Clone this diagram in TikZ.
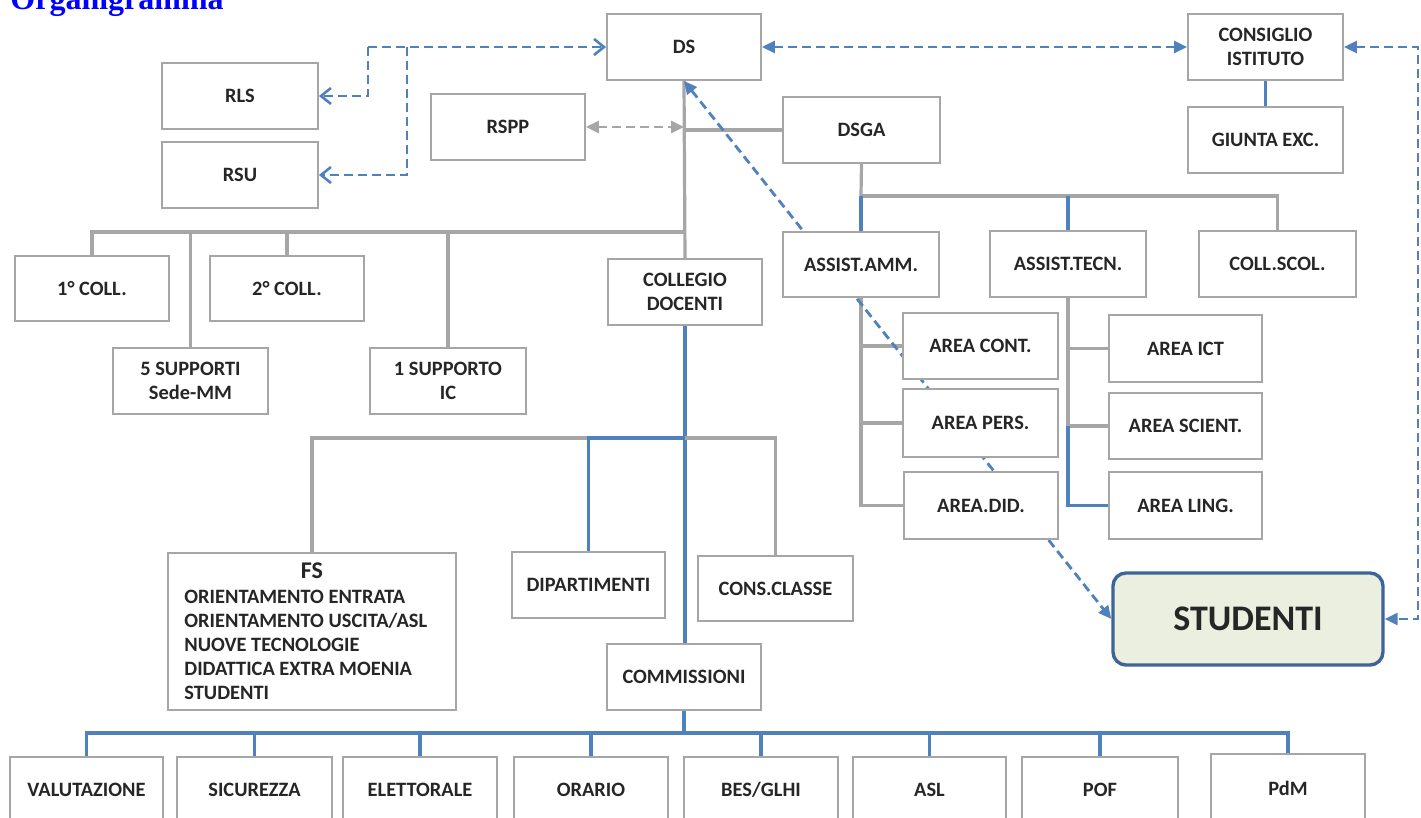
\documentclass[tikz,border=0pt]{standalone}
\usepackage{fontspec}
\setmainfont{Carlito}
\newfontfamily\titlefont{Liberation Serif}
\usetikzlibrary{arrows.meta}
\definecolor{boxgray}{HTML}{A6A6A6}
\definecolor{linegray}{HTML}{A6A6A6}
\definecolor{lineblue}{HTML}{4F81BD}
\definecolor{txt}{HTML}{262626}
\definecolor{studb}{HTML}{3D6597}
\definecolor{studf}{HTML}{EBEFDF}
\definecolor{titleblue}{HTML}{0000FF}
\pgfdeclarelayer{bg}
\pgfsetlayers{bg,main}
\tikzset{
  box/.style={draw=boxgray, line width=0.9pt, fill=white, inner sep=0pt, align=center,
    font=\bfseries\fontsize{10.2}{12}\selectfont, text=txt},
  gl/.style={draw=linegray, line width=1.6pt},
  bl/.style={draw=lineblue, line width=1.6pt},
  dbl/.style={draw=lineblue, line width=1.4pt, dash pattern=on 4.5pt off 2.5pt},
  dgl/.style={draw=linegray, line width=1.4pt, dash pattern=on 4.5pt off 2.5pt},
  tri/.tip={Triangle[length=6.5pt,width=6pt]},
  barb/.tip={Straight Barb[length=5pt,width=8pt,line width=1.3pt]},
}
\newcommand\obox[6]{\node[box, minimum width={(#4-#2)*0.5pt}, minimum height={(#5-#3)*0.5pt}] (#1) at ({(#2+#4)/2},{(#3+#5)/2}) {#6};}
\begin{document}
\begin{tikzpicture}[x=0.5pt,y=-0.5pt]
\useasboundingbox (0,0) rectangle (1421,818);
% title (cut off at the top edge, as in the reference)
\node[anchor=base west, inner sep=0pt, font=\titlefont\bfseries\fontsize{16}{18}\selectfont, text=titleblue] (title) at (10,10) {Organigramma};
% boxes
\obox{DS}{607}{14}{761}{80}{DS}
\obox{CI}{1188}{14}{1343}{80}{CONSIGLIO\\ISTITUTO}
\obox{GE}{1188}{107}{1343}{173}{GIUNTA EXC.}
\obox{RLS}{162}{63}{318}{129}{RLS}
\obox{RSU}{162}{142}{318}{208}{RSU}
\obox{RSPP}{431}{94}{585}{160}{RSPP}
\obox{DSGA}{783}{97}{940}{163}{DSGA}
\obox{C1}{15}{256}{169}{321}{1° COLL.}
\obox{C2}{210}{256}{364}{321}{2° COLL.}
\obox{S5}{113}{348}{268}{414}{5 SUPPORTI\\Sede-MM}
\obox{S1}{370}{348}{526}{414}{1 SUPPORTO\\IC}
\obox{CD}{608}{259}{762}{325}{COLLEGIO\\DOCENTI}
\obox{AA}{783}{232}{939}{297}{ASSIST.AMM.}
\obox{AT}{990}{231}{1146}{297}{ASSIST.TECN.}
\obox{CS}{1199}{231}{1356}{297}{COLL.SCOL.}
\obox{ACO}{903}{313}{1058}{379}{AREA CONT.}
\obox{APE}{903}{389}{1058}{457}{AREA PERS.}
\obox{ADI}{904}{472}{1058}{539}{AREA.DID.}
\obox{AICT}{1109}{315}{1262}{382}{AREA ICT}
\obox{ASC}{1109}{393}{1262}{459}{AREA SCIENT.}
\obox{ALI}{1109}{472}{1262}{539}{AREA LING.}
\obox{FS}{168}{553}{456}{710}{}
\node[inner sep=0pt, font=\bfseries\fontsize{12}{14}\selectfont, text=txt] (FSt) at (312,571) {FS};
\node[anchor=north west, inner sep=0pt, align=left, font=\bfseries\fontsize{10.2}{12}\selectfont, text=txt] (FSl) at (184,590) {ORIENTAMENTO ENTRATA\\ORIENTAMENTO USCITA/ASL\\NUOVE TECNOLOGIE\\DIDATTICA EXTRA MOENIA\\STUDENTI};
\obox{DIP}{512}{552}{665}{618}{DIPARTIMENTI}
\obox{CC}{698}{556}{853}{621}{CONS.CLASSE}
\obox{COM}{607}{644}{761}{710}{COMMISSIONI}
\obox{B1}{10}{757}{163}{823}{VALUTAZIONE}
\obox{B2}{177}{757}{332}{823}{SICUREZZA}
\obox{B3}{343}{757}{497}{823}{ELETTORALE}
\obox{B4}{514}{757}{668}{823}{ORARIO}
\obox{B5}{684}{757}{838}{823}{BES/GLHI}
\obox{B6}{853}{757}{1006}{823}{ASL}
\obox{B7}{1022}{757}{1178}{823}{POF}
\obox{B8}{1211}{754}{1365}{822}{PdM}
\node[draw=studb, line width=1.7pt, fill=studf, rounded corners=6.5pt, inner sep=0pt,
  minimum width={(1383-1113)*0.5pt}, minimum height={(665-573)*0.5pt},
  font=\bfseries\fontsize{18}{20}\selectfont, text=txt] (ST) at (1248,619) {STUDENTI};
% connectors
\begin{pgfonlayer}{bg}
\coordinate (jL) at (684,232);
\coordinate (jD) at (861,196);
\coordinate (jC) at (685,438);
\coordinate (jB) at (684,733);
\coordinate (r1) at (368,47);
\coordinate (r2) at (407,47);
\coordinate (rr) at (1418,47);
% gray tree from DS
\draw[gl] (DS.south) -- (CD.north);
\draw[gl] (C1.north) |- (jL);
\draw[gl] (S5.north) -- (S5.north |- jL);
\draw[gl] (C2.north) -- (C2.north |- jL);
\draw[gl] (S1.north) -- (S1.north |- jL);
\draw[gl] (DS.south |- DSGA.west) -- (DSGA.west);
\draw[dgl, tri-tri] (RSPP.east) -- (DS.south |- RSPP.east);
% DSGA
\draw[gl] (DSGA.south) -- (jD);
\draw[gl] (jD) -| (CS.north);
\draw[bl] (jD) -- (AA.north);
\draw[bl] (AT.north |- jD) -- (AT.north);
\draw[gl] (AA.south) -- (AA.south |- ADI.west) -- (ADI.west);
\draw[gl] (AA.south |- ACO.west) -- (ACO.west);
\draw[gl] (AA.south |- APE.west) -- (APE.west);
\draw[gl] (AT.south) -- (AT.south |- ASC.west) -- (ASC.west);
\draw[gl] (AT.south |- AICT.west) -- (AICT.west);
\draw[bl] (AT.south |- ASC.west) |- (ALI.west);
\draw[bl] (CI.south) -- (GE.north);
% collegio
\draw[bl] (CD.south) -- (CD.south |- COM.north);
\draw[gl] (FS.north) |- (DIP.north |- jC);
\draw[bl] (DIP.north) |- (jC);
\draw[gl] (jC) -| (CC.north);
% commissioni
\draw[bl] (COM.south) -- (jB);
\draw[bl] (B1.north) |- (B8.north |- jB) -- (B8.north);
\foreach \b in {B2,B3,B4,B5,B6,B7} \draw[bl] (\b.north) -- (\b.north |- jB);
% dashed blue
\draw[dbl, -barb] (r1) -- (DS.west);
\draw[dbl, -barb] (r1) |- (RLS.east);
\draw[dbl, -barb] (r2) |- (RSU.east);
\draw[dbl, tri-tri] (DS.east) -- (CI.west);
\draw[dbl, tri-tri] (CI.east) -- (rr) |- (ST.east);
\draw[dbl, tri-tri] (DS.south) -- (ST.west);
\end{pgfonlayer}
\end{tikzpicture}
\end{document}
